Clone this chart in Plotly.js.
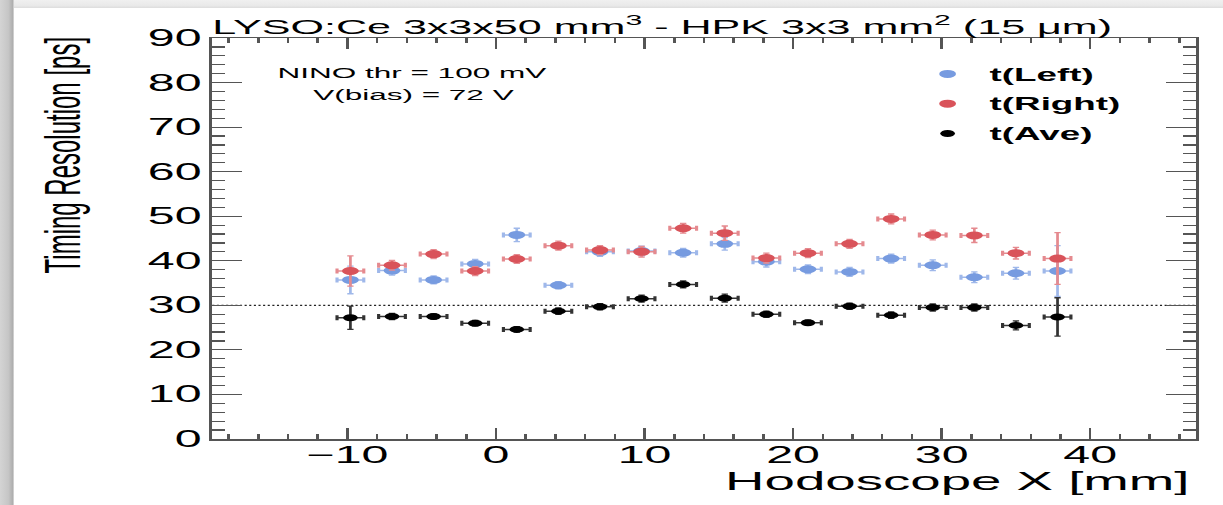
<!DOCTYPE html>
<html>
<head>
<meta charset="utf-8">
<script src="https://cdn.plot.ly/plotly-3.0.1.min.js"></script>
<style>
  html, body { margin: 0; padding: 0; background: #ffffff; overflow: hidden; width: 1223px; height: 505px; }
  #plot { position: absolute; left: 0; top: 0; width: 582px; height: 505px; transform-origin: 0 0; transform: scaleX(2.1014); }
  #edgeLeft { position: absolute; left: 0; top: 0; width: 14px; height: 505px; z-index: 5;
    background: linear-gradient(to right, #d4d4d4 0%, #c6c6c6 60%, #adadad 92%, #e8e8e8 100%); }
  #edgeTop { position: absolute; left: 0; top: 0; width: 1223px; height: 8px; z-index: 4;
    background: linear-gradient(to bottom, #f0f0f0 0%, #e9e9e9 70%, #dcdcdc 100%); }
</style>
</head>
<body>
<div id="plot"></div>
<div id="edgeTop"></div>
<div id="edgeLeft"></div>
<script>
// ---- data ----
const hodoX   = [-9.8, -7.0, -4.2, -1.4, 1.4, 4.2, 7.0, 9.8, 12.6, 15.4, 18.2, 21.0, 23.8, 26.6, 29.4, 32.2, 35.0, 37.8];
const hodoXErr = [0.9, 0.9, 0.9, 0.9, 0.9, 0.9, 0.9, 0.9, 0.9, 0.9, 0.9, 0.9, 0.9, 0.9, 0.9, 0.9, 0.9, 0.9];

const tLeft    = [35.7, 37.8, 35.7, 39.3, 45.8, 34.5, 42.0, 42.2, 41.8, 43.8, 39.8, 38.1, 37.5, 40.5, 39.0, 36.3, 37.2, 37.7];
const tLeftErr = [3.1, 1.0, 0.9, 1.0, 1.5, 0.8, 1.0, 1.1, 1.0, 1.4, 1.2, 1.0, 1.0, 1.0, 1.2, 1.2, 1.3, 5.7];

const tRight    = [37.7, 39.0, 41.5, 37.7, 40.4, 43.4, 42.4, 42.0, 47.3, 46.2, 40.6, 41.7, 43.8, 49.4, 45.8, 45.7, 41.7, 40.5];
const tRightErr = [3.4, 1.1, 1.0, 1.0, 1.0, 1.0, 1.0, 1.2, 1.1, 1.6, 1.1, 1.0, 1.0, 1.1, 1.1, 1.6, 1.3, 5.8];

const tAve    = [27.2, 27.5, 27.5, 26.0, 24.6, 28.7, 29.7, 31.5, 34.7, 31.6, 28.0, 26.1, 29.8, 27.8, 29.5, 29.5, 25.5, 27.4];
const tAveErr = [2.6, 0.7, 0.6, 0.6, 0.6, 0.7, 0.7, 0.8, 0.8, 0.9, 0.7, 0.6, 0.7, 0.7, 0.8, 0.8, 1.0, 4.3];

const seriesNames = ['t(Left)', 't(Right)', 't(Ave)'];
const referenceLevel = 30;
const xTickVals = [-10, 0, 10, 20, 30, 40];
const yTickVals = [0, 10, 20, 30, 40, 50, 60, 70, 80, 90];

const titleText = 'LYSO:Ce 3x3x50 mm<sup>3</sup> - HPK 3x3 mm<sup>2</sup> (15 μm)';
const noteLine1 = 'NINO thr = 100 mV';
const noteLine2 = 'V(bias) = 72 V';
const xTitleText = 'Hodoscope X [mm]';
const yTitleText = 'Timing Resolution [ps]';

// ---- styling ----
const FONT = 'Liberation Sans, Arial, Helvetica, sans-serif';
const AXC = '#555555';

function series(name, y, yerr, color, errColor, size) {
  return {
    type: 'scatter', mode: 'markers', name: name, legendgroup: name,
    x: hodoX, y: y,
    marker: { color: color, size: size },
    error_x: { type: 'data', array: hodoXErr, visible: true, color: errColor, thickness: 1.5, width: 2.5 },
    error_y: { type: 'data', array: yerr, visible: true, color: errColor, thickness: 1.3, width: 1.5 },
    cliponaxis: false
  };
}

const traces = [
  series(seriesNames[0], tLeft, tLeftErr, '#779be0', '#9fb8ea', 8),
  series(seriesNames[1], tRight, tRightErr, '#d9535a', '#e58a8f', 8),
  series(seriesNames[2], tAve, tAveErr, '#000000', '#333333', 7)
];

const axisCommon = {
  showgrid: false, zeroline: false, showline: true, linecolor: AXC, linewidth: 1.5,
  mirror: 'allticks', ticks: 'inside', tickcolor: AXC, tickwidth: 1.2,
  tickfont: { family: FONT, size: 23, color: '#000' }
};

const layout = {
  width: 582, height: 505,
  margin: { l: 100.9, r: 13.3, t: 38, b: 66 },
  paper_bgcolor: '#ffffff', plot_bgcolor: '#ffffff',
  font: { family: FONT, color: '#000' },
  showlegend: true,
  title: { text: titleText, font: { family: FONT, size: 20.5, color: '#000' },
           xref: 'paper', x: 0, xanchor: 'left', yref: 'container', y: 0.962, yanchor: 'top' },
  xaxis: Object.assign({}, axisCommon, {
    range: [-19.1, 47.1], tickmode: 'array', tickvals: xTickVals, ticklen: 11,
    ticklabelstandoff: -5,
    minor: { dtick: 2, ticks: 'inside', ticklen: 5, tickcolor: AXC, tickwidth: 1.2 }
  }),
  yaxis: Object.assign({}, axisCommon, {
    range: [0, 90], tickmode: 'array', tickvals: yTickVals, ticklen: 14.3,
    ticklabelstandoff: -1,
    minor: { dtick: 2, ticks: 'inside', ticklen: 6.2, tickcolor: AXC, tickwidth: 1.2 }
  }),
  legend: {
    x: 0.705, xanchor: 'left', y: 0.955, yanchor: 'top',
    bgcolor: 'rgba(0,0,0,0)', borderwidth: 0, itemwidth: 30,
    tracegroupgap: 4,
    font: { family: FONT, size: 17.5, color: '#000', weight: 'bold' }
  },
  shapes: [{
    type: 'line', xref: 'paper', x0: 0, x1: 1, yref: 'y', y0: referenceLevel, y1: referenceLevel,
    line: { color: '#222', width: 1.2, dash: '1px,1.2px' }, layer: 'below'
  }],
  annotations: [
    { text: noteLine1, xref: 'paper', yref: 'paper', x: 0.2035, y: 0.915, xanchor: 'center', yanchor: 'middle',
      showarrow: false, font: { family: FONT, size: 15, color: '#000' } },
    { text: noteLine2, xref: 'paper', yref: 'paper', x: 0.2035, y: 0.858, xanchor: 'center', yanchor: 'middle',
      showarrow: false, font: { family: FONT, size: 15, color: '#000' } },
    { text: xTitleText, xref: 'paper', yref: 'paper', x: 0.998, y: -0.1047, xanchor: 'right', yanchor: 'middle',
      showarrow: false, font: { family: FONT, size: 26, color: '#000' } },
    { text: yTitleText, xref: 'paper', yref: 'paper', x: -0.1535, y: 1.008, xanchor: 'center', yanchor: 'top',
      textangle: -90, showarrow: false, font: { family: FONT, size: 24, color: '#000' } }
  ]
};

Plotly.newPlot('plot', traces, layout, { displayModeBar: false, staticPlot: true, responsive: false });
</script>
</body>
</html>
